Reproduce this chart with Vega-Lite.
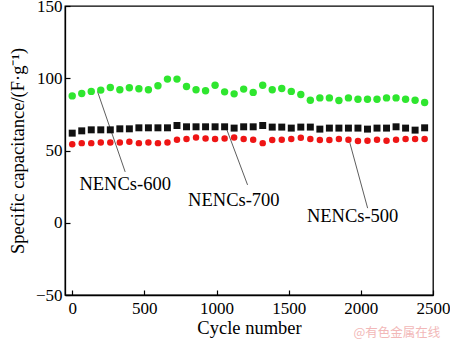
{
  "$schema": "https://vega.github.io/schema/vega-lite/v6.json",
  "width": 368,
  "height": 289,
  "autosize": {"type": "none"},
  "padding": {"left": 65, "top": 6, "right": 17, "bottom": 47},
  "background": "white",
  "config": {
    "view": {"stroke": "black", "strokeWidth": 1.3},
    "font": "Liberation Serif",
    "axis": {
      "labelFont": "Liberation Serif", "titleFont": "Liberation Serif",
      "labelFontSize": 17, "titleFontSize": 18.5, "labelColor": "black", "titleColor": "black",
      "titleFontWeight": "normal", "domainColor": "black", "tickColor": "black",
      "grid": false, "tickSize": -5, "domainWidth": 1.3, "tickWidth": 1.2
    }
  },
  "datasets": {
    "pts": [
      {"cycle":0,"cap":87.8,"s":"NENCs-600"},{"cycle":66,"cap":89.5,"s":"NENCs-600"},{"cycle":132,"cap":90.9,"s":"NENCs-600"},{"cycle":198,"cap":91.8,"s":"NENCs-600"},{"cycle":264,"cap":93.6,"s":"NENCs-600"},{"cycle":330,"cap":92.0,"s":"NENCs-600"},{"cycle":396,"cap":93.4,"s":"NENCs-600"},{"cycle":462,"cap":92.7,"s":"NENCs-600"},{"cycle":528,"cap":92.0,"s":"NENCs-600"},{"cycle":594,"cap":94.8,"s":"NENCs-600"},{"cycle":660,"cap":99.4,"s":"NENCs-600"},{"cycle":726,"cap":99.4,"s":"NENCs-600"},{"cycle":792,"cap":94.3,"s":"NENCs-600"},{"cycle":858,"cap":92.0,"s":"NENCs-600"},{"cycle":924,"cap":91.3,"s":"NENCs-600"},{"cycle":990,"cap":95.2,"s":"NENCs-600"},{"cycle":1056,"cap":90.6,"s":"NENCs-600"},{"cycle":1122,"cap":89.2,"s":"NENCs-600"},{"cycle":1188,"cap":92.5,"s":"NENCs-600"},{"cycle":1254,"cap":90.2,"s":"NENCs-600"},{"cycle":1320,"cap":95.2,"s":"NENCs-600"},{"cycle":1386,"cap":92.0,"s":"NENCs-600"},{"cycle":1452,"cap":92.9,"s":"NENCs-600"},{"cycle":1518,"cap":90.9,"s":"NENCs-600"},{"cycle":1584,"cap":88.8,"s":"NENCs-600"},{"cycle":1650,"cap":84.8,"s":"NENCs-600"},{"cycle":1716,"cap":86.4,"s":"NENCs-600"},{"cycle":1782,"cap":86.4,"s":"NENCs-600"},{"cycle":1848,"cap":84.6,"s":"NENCs-600"},{"cycle":1914,"cap":86.4,"s":"NENCs-600"},{"cycle":1980,"cap":85.5,"s":"NENCs-600"},{"cycle":2046,"cap":85.5,"s":"NENCs-600"},{"cycle":2112,"cap":85.5,"s":"NENCs-600"},{"cycle":2178,"cap":86.4,"s":"NENCs-600"},{"cycle":2244,"cap":86.4,"s":"NENCs-600"},{"cycle":2310,"cap":85.5,"s":"NENCs-600"},{"cycle":2376,"cap":84.8,"s":"NENCs-600"},{"cycle":2442,"cap":83.2,"s":"NENCs-600"},
      {"cycle":0,"cap":62.0,"s":"NENCs-700"},{"cycle":66,"cap":63.6,"s":"NENCs-700"},{"cycle":132,"cap":64.3,"s":"NENCs-700"},{"cycle":198,"cap":64.3,"s":"NENCs-700"},{"cycle":264,"cap":64.3,"s":"NENCs-700"},{"cycle":330,"cap":65.0,"s":"NENCs-700"},{"cycle":396,"cap":65.0,"s":"NENCs-700"},{"cycle":462,"cap":65.7,"s":"NENCs-700"},{"cycle":528,"cap":65.7,"s":"NENCs-700"},{"cycle":594,"cap":65.7,"s":"NENCs-700"},{"cycle":660,"cap":65.7,"s":"NENCs-700"},{"cycle":726,"cap":67.3,"s":"NENCs-700"},{"cycle":792,"cap":66.4,"s":"NENCs-700"},{"cycle":858,"cap":66.4,"s":"NENCs-700"},{"cycle":924,"cap":66.4,"s":"NENCs-700"},{"cycle":990,"cap":66.4,"s":"NENCs-700"},{"cycle":1056,"cap":66.4,"s":"NENCs-700"},{"cycle":1122,"cap":65.5,"s":"NENCs-700"},{"cycle":1188,"cap":66.4,"s":"NENCs-700"},{"cycle":1254,"cap":66.4,"s":"NENCs-700"},{"cycle":1320,"cap":67.3,"s":"NENCs-700"},{"cycle":1386,"cap":66.2,"s":"NENCs-700"},{"cycle":1452,"cap":66.2,"s":"NENCs-700"},{"cycle":1518,"cap":65.5,"s":"NENCs-700"},{"cycle":1584,"cap":66.2,"s":"NENCs-700"},{"cycle":1650,"cap":66.2,"s":"NENCs-700"},{"cycle":1716,"cap":64.8,"s":"NENCs-700"},{"cycle":1782,"cap":65.5,"s":"NENCs-700"},{"cycle":1848,"cap":65.5,"s":"NENCs-700"},{"cycle":1914,"cap":65.5,"s":"NENCs-700"},{"cycle":1980,"cap":65.5,"s":"NENCs-700"},{"cycle":2046,"cap":64.8,"s":"NENCs-700"},{"cycle":2112,"cap":65.5,"s":"NENCs-700"},{"cycle":2178,"cap":65.5,"s":"NENCs-700"},{"cycle":2244,"cap":66.4,"s":"NENCs-700"},{"cycle":2310,"cap":65.5,"s":"NENCs-700"},{"cycle":2376,"cap":64.1,"s":"NENCs-700"},{"cycle":2442,"cap":65.7,"s":"NENCs-700"},
      {"cycle":0,"cap":54.4,"s":"NENCs-500"},{"cycle":66,"cap":55.1,"s":"NENCs-500"},{"cycle":132,"cap":55.1,"s":"NENCs-500"},{"cycle":198,"cap":55.6,"s":"NENCs-500"},{"cycle":264,"cap":55.6,"s":"NENCs-500"},{"cycle":330,"cap":55.6,"s":"NENCs-500"},{"cycle":396,"cap":56.0,"s":"NENCs-500"},{"cycle":462,"cap":55.1,"s":"NENCs-500"},{"cycle":528,"cap":55.6,"s":"NENCs-500"},{"cycle":594,"cap":55.1,"s":"NENCs-500"},{"cycle":660,"cap":55.6,"s":"NENCs-500"},{"cycle":726,"cap":57.4,"s":"NENCs-500"},{"cycle":792,"cap":57.9,"s":"NENCs-500"},{"cycle":858,"cap":59.0,"s":"NENCs-500"},{"cycle":924,"cap":58.3,"s":"NENCs-500"},{"cycle":990,"cap":57.9,"s":"NENCs-500"},{"cycle":1056,"cap":58.3,"s":"NENCs-500"},{"cycle":1122,"cap":59.0,"s":"NENCs-500"},{"cycle":1188,"cap":57.9,"s":"NENCs-500"},{"cycle":1254,"cap":57.4,"s":"NENCs-500"},{"cycle":1320,"cap":55.1,"s":"NENCs-500"},{"cycle":1386,"cap":57.2,"s":"NENCs-500"},{"cycle":1452,"cap":57.4,"s":"NENCs-500"},{"cycle":1518,"cap":57.9,"s":"NENCs-500"},{"cycle":1584,"cap":58.8,"s":"NENCs-500"},{"cycle":1650,"cap":57.9,"s":"NENCs-500"},{"cycle":1716,"cap":57.2,"s":"NENCs-500"},{"cycle":1782,"cap":57.2,"s":"NENCs-500"},{"cycle":1848,"cap":57.9,"s":"NENCs-500"},{"cycle":1914,"cap":57.4,"s":"NENCs-500"},{"cycle":1980,"cap":56.5,"s":"NENCs-500"},{"cycle":2046,"cap":56.7,"s":"NENCs-500"},{"cycle":2112,"cap":57.4,"s":"NENCs-500"},{"cycle":2178,"cap":56.7,"s":"NENCs-500"},{"cycle":2244,"cap":57.4,"s":"NENCs-500"},{"cycle":2310,"cap":57.9,"s":"NENCs-500"},{"cycle":2376,"cap":57.9,"s":"NENCs-500"},{"cycle":2442,"cap":57.9,"s":"NENCs-500"}
    ],
    "notes": [
      {"label":"NENCs-600","x1":175,"y1":90.9,"x2":367,"y2":35.2,"tx":367,"ty":27},
      {"label":"NENCs-700","x1":1070,"y1":64.8,"x2":1215,"y2":26.2,"tx":1120,"ty":15.5},
      {"label":"NENCs-500","x1":1923,"y1":55.6,"x2":2047,"y2":10.1,"tx":1943,"ty":5}
    ],
    "wm": [{"t":"@有色金属在线","x":2250,"y":-76}]
  },
  "layer": [
    {
      "data": {"name": "notes"},
      "mark": {"type": "rule", "color": "#333", "strokeWidth": 0.8},
      "encoding": {
        "x": {"field": "x1", "type": "quantitative", "scale": {"domain": [-50, 2500], "nice": false, "zero": false},
          "axis": {"values": [0, 500, 1000, 1500, 2000, 2500], "format": "d", "title": "Cycle number", "labelFont": "Liberation Serif", "labelFontSize": 17, "labelPadding": 10, "titlePadding": 2, "labelFlush": false}},
        "y": {"field": "y1", "type": "quantitative", "scale": {"domain": [-50, 150], "nice": false, "zero": false},
          "axis": {"values": [-50, 0, 50, 100, 150], "format": "d", "title": "Specific capacitance/(F·g⁻¹)", "labelFont": "Liberation Serif", "labelFontSize": 17, "labelPadding": 8, "titlePadding": 8, "labelFlush": false}},
        "x2": {"field": "x2"},
        "y2": {"field": "y2"}
      }
    },
    {
      "data": {"name": "pts"},
      "mark": {"type": "point", "filled": true, "opacity": 1},
      "encoding": {
        "x": {"field": "cycle", "type": "quantitative"},
        "y": {"field": "cap", "type": "quantitative"},
        "color": {"field": "s", "type": "nominal", "scale": {"domain": ["NENCs-600", "NENCs-700", "NENCs-500"], "range": ["#2fe62f", "#111111", "#ee1515"]}, "legend": null},
        "shape": {"field": "s", "type": "nominal", "scale": {"domain": ["NENCs-600", "NENCs-700", "NENCs-500"], "range": ["circle", "square", "circle"]}, "legend": null},
        "size": {"field": "s", "type": "nominal", "scale": {"domain": ["NENCs-600", "NENCs-700", "NENCs-500"], "range": [55, 42, 50]}, "legend": null}
      }
    },
    {
      "data": {"name": "notes"},
      "mark": {"type": "text", "font": "Liberation Serif", "fontSize": 18.5, "color": "black", "baseline": "middle", "align": "center"},
      "encoding": {
        "x": {"field": "tx", "type": "quantitative"},
        "y": {"field": "ty", "type": "quantitative"},
        "text": {"field": "label"}
      }
    },
    {
      "data": {"name": "wm"},
      "mark": {"type": "text", "font": "Noto Sans CJK SC", "fontSize": 12.5, "color": "#f2b8b8", "baseline": "middle", "align": "center", "clip": false},
      "encoding": {
        "x": {"field": "x", "type": "quantitative"},
        "y": {"field": "y", "type": "quantitative"},
        "text": {"field": "t"}
      }
    }
  ]
}
